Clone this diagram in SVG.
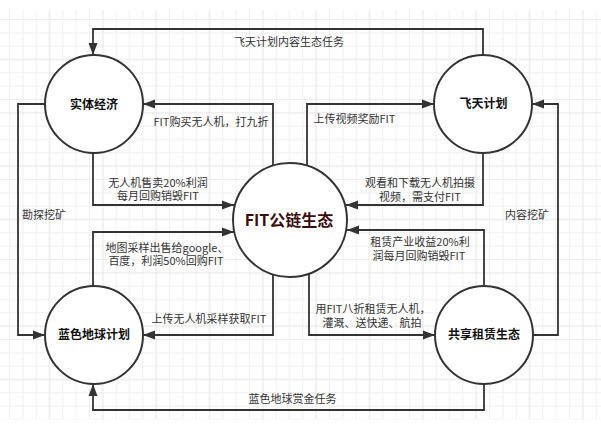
<svg xmlns="http://www.w3.org/2000/svg" width="601" height="435" viewBox="0 0 601 435">
<defs>
<pattern id="grid" patternUnits="userSpaceOnUse" x="9" y="19" width="53.333" height="53.333">
<path d="M0.5,0 V53.333 M13.833,0 V53.333 M27.167,0 V53.333 M0,0.5 H53.333 M0,13.833 H53.333 M0,27.167 H53.333" stroke="#efefef" stroke-width="1" fill="none"/>
<path d="M40.5,0 V53.333 M0,40.5 H53.333" stroke="#e4e4e4" stroke-width="1" fill="none"/>
</pattern>
<marker id="arr" markerUnits="userSpaceOnUse" markerWidth="13" markerHeight="10" refX="12" refY="5" orient="auto">
<path d="M0,0.5 L12,5 L0,9.5 z" fill="#333"/>
</marker>
<style>
.edge{fill:none;stroke:#333;stroke-width:1.8;marker-end:url(#arr)}
.node{fill:#fff;stroke:#333;stroke-width:2}
.lbl{font-family:"Noto Sans CJK SC","Liberation Sans",sans-serif;font-size:11px;fill:#333;text-anchor:middle}
.nlbl{font-family:"Noto Sans CJK SC","Liberation Sans",sans-serif;font-size:12px;font-weight:bold;fill:#111;text-anchor:middle}
</style>
</defs>
<rect x="0" y="0" width="601" height="435" fill="#fff"/>
<rect x="0" y="10" width="601" height="409.5" fill="url(#grid)"/>
<g id="connectors">
<path class="edge" d="M483,55 V29 H93 V55"/>
<text class="lbl" x="289" y="45.5">飞天计划内容生态任务</text>
<path class="edge" d="M273,166 V104 H143"/>
<text class="lbl" x="211" y="125.5">FIT购买无人机，打九折</text>
<path class="edge" d="M93,153 V205 H234"/>
<text class="lbl" x="158" y="186.5">无人机售卖20%利润</text>
<text class="lbl" x="158" y="200">每月回购销毁FIT</text>
<path class="edge" d="M45,104 H18 V335 H45"/>
<text class="lbl" x="44" y="219">勘探挖矿</text>
<path class="edge" d="M93,286 V232 H234"/>
<text class="lbl" x="167" y="251.5">地图采样出售给google、</text>
<text class="lbl" x="166" y="264.5">百度，利润50%回购FIT</text>
<path class="edge" d="M273,274 V335 H143"/>
<text class="lbl" x="209" y="323">上传无人机采样获取FIT</text>
<path class="edge" d="M484,384 V410 H93 V384"/>
<text class="lbl" x="292.5" y="403">蓝色地球赏金任务</text>
<path class="edge" d="M533,335 H558 V104 H532"/>
<text class="lbl" x="527" y="219">内容挖矿</text>
<path class="edge" d="M307,166 V104 H434"/>
<text class="lbl" x="354.5" y="123">上传视频奖励FIT</text>
<path class="edge" d="M483,153 V205 H346"/>
<text class="lbl" x="420" y="186.5">观看和下载无人机拍摄</text>
<text class="lbl" x="420" y="200.5">视频，需支付FIT</text>
<path class="edge" d="M484,286 V230 H347"/>
<text class="lbl" x="420" y="245.5">租赁产业收益20%利</text>
<text class="lbl" x="419" y="259.5">润每月回购销毁FIT</text>
<path class="edge" d="M309,274 V335 H435"/>
<text class="lbl" x="373" y="313">用FIT八折租赁无人机，</text>
<text class="lbl" x="372" y="326.5">灌溉、送快递、航拍</text>
</g>
<g id="node-shiti">
<circle class="node" cx="94" cy="104" r="49"/>
<text class="nlbl" x="94" y="108.5">实体经济</text>
</g>
<g id="node-feitian">
<circle class="node" cx="483" cy="104" r="49"/>
<text class="nlbl" x="483.5" y="108">飞天计划</text>
</g>
<g id="node-fit">
<circle class="node" cx="290" cy="220" r="57"/>
<text class="nlbl" x="289" y="226" style="font-size:16px;fill:#3b0d0d">FIT公链生态</text>
</g>
<g id="node-lanse">
<circle class="node" cx="94" cy="335" r="49"/>
<text class="nlbl" x="94" y="339">蓝色地球计划</text>
</g>
<g id="node-gongxiang">
<circle class="node" cx="484" cy="335" r="49"/>
<text class="nlbl" x="484" y="338.5">共享租赁生态</text>
</g>
</svg>
